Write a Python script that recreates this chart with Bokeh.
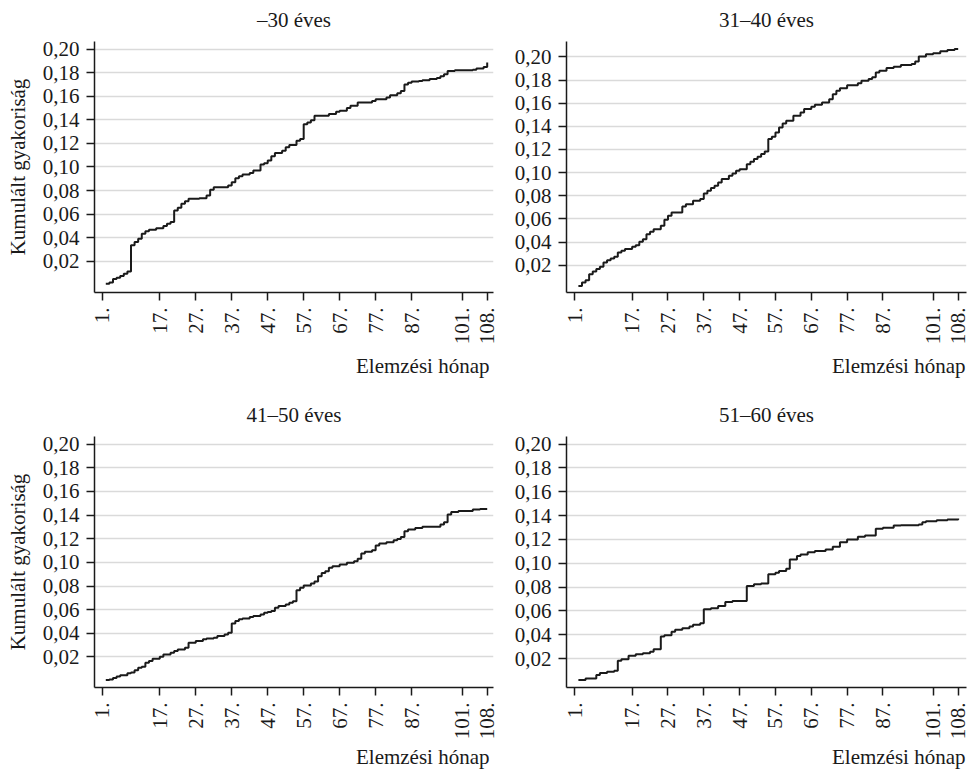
import math
from bokeh.plotting import figure
from bokeh.models import Range1d, FixedTicker, Title
from bokeh.layouts import gridplot
from bokeh.embed import file_html
from bokeh.resources import INLINE

# ---------------- data ----------------
titles = ["\u201330 éves", "31\u201340 éves", "41\u201350 éves", "51\u201360 éves"]
y_axis_title = "Kumulált gyakoriság"
x_axis_title = "Elemzési hónap"

x_ticks = [1, 17, 27, 37, 47, 57, 67, 77, 87, 101, 108]
x_tick_labels = ["1.", "17.", "27.", "37.", "47.", "57.", "67.", "77.", "87.", "101.", "108."]
y_ticks = [0.02, 0.04, 0.06, 0.08, 0.10, 0.12, 0.14, 0.16, 0.18, 0.20]
y_tick_labels = ["0,02", "0,04", "0,06", "0,08", "0,10", "0,12", "0,14", "0,16", "0,18", "0,20"]

months_30 = [2, 3, 4, 5, 6, 7, 8, 9, 10, 11, 12, 13, 14, 16, 18, 19, 20, 21, 22, 23,
             24, 25, 28, 30, 31, 32, 36, 37, 38, 39, 40, 42, 43, 45, 46, 47, 48, 49, 51, 52,
             53, 55, 56, 57, 58, 59, 60, 64, 66, 67, 69, 70, 72, 76, 77, 80, 81, 83, 84, 85,
             86, 87, 89, 90, 92, 94, 95, 96, 97, 99, 104, 105, 107, 108]
cum_30 = [0.001, 0.002, 0.005, 0.006, 0.0076, 0.0093, 0.0113, 0.0335, 0.0363, 0.039,
          0.0434, 0.0454, 0.0468, 0.048, 0.050, 0.0518, 0.0532, 0.063, 0.0654, 0.0687,
          0.071, 0.073, 0.0735, 0.0758, 0.0806, 0.0828, 0.0842, 0.087, 0.0904, 0.0921,
          0.0935, 0.0949, 0.0969, 0.102, 0.1031, 0.1054, 0.109, 0.1118, 0.1138, 0.1166,
          0.1186, 0.1223, 0.1237, 0.1363, 0.1377, 0.1397, 0.1434, 0.1448, 0.1468, 0.1476,
          0.1499, 0.1518, 0.1546, 0.156, 0.1575, 0.1589, 0.1608, 0.1625, 0.1645, 0.170,
          0.1715, 0.1724, 0.173, 0.1735, 0.1746, 0.1755, 0.1769, 0.1786, 0.1814, 0.182,
          0.1825, 0.1834, 0.1848, 0.1885]

months_40 = [2, 3, 4, 5, 6, 7, 8, 9, 10, 11, 12, 13, 14, 15, 17, 18, 19, 20, 21, 22,
             23, 25, 26, 27, 28, 31, 32, 34, 36, 37, 38, 39, 40, 41, 42, 44, 45, 46, 47, 49,
             50, 51, 52, 53, 54, 55, 56, 57, 58, 59, 60, 62, 64, 65, 67, 68, 70, 72, 73, 74,
             75, 77, 80, 81, 83, 84, 85, 86, 88, 90, 92, 95, 96, 97, 99, 101, 103, 105, 107, 108]
cum_40 = [0.002, 0.005, 0.007, 0.0122, 0.0145, 0.0166, 0.0186, 0.0224, 0.0243, 0.0258,
          0.0272, 0.031, 0.0324, 0.0339, 0.0359, 0.0373, 0.0402, 0.0425, 0.0468, 0.0488,
          0.0511, 0.054, 0.0592, 0.0627, 0.0655, 0.0707, 0.0727, 0.0756, 0.0771, 0.082,
          0.0843, 0.0866, 0.0886, 0.0915, 0.0944, 0.0973, 0.0993, 0.1016, 0.103, 0.1073,
          0.1093, 0.1117, 0.1137, 0.116, 0.1183, 0.129, 0.131, 0.1347, 0.139, 0.1425,
          0.1448, 0.1491, 0.152, 0.1549, 0.1569, 0.1586, 0.1606, 0.1635, 0.1678, 0.1707,
          0.173, 0.1756, 0.1773, 0.1794, 0.1808, 0.1823, 0.1866, 0.188, 0.1903, 0.1915,
          0.193, 0.1938, 0.1961, 0.2004, 0.2022, 0.2031, 0.2048, 0.2059, 0.2068, 0.2068]

months_50 = [2, 3, 4, 5, 6, 8, 9, 10, 11, 12, 13, 14, 15, 17, 18, 20, 21, 22, 24, 25,
             27, 29, 30, 32, 33, 35, 36, 37, 38, 39, 40, 42, 43, 45, 46, 47, 48, 49, 50, 52,
             53, 54, 55, 56, 57, 59, 60, 61, 62, 63, 64, 65, 67, 69, 71, 72, 73, 74, 76, 77,
             78, 80, 82, 83, 84, 85, 86, 88, 90, 95, 96, 97, 98, 100, 104, 106, 108]
cum_50 = [0.0005, 0.001, 0.0023, 0.0034, 0.0045, 0.0062, 0.0068, 0.0087, 0.011, 0.0118,
          0.0152, 0.0166, 0.0186, 0.0203, 0.0222, 0.0236, 0.025, 0.0264, 0.0278, 0.0321,
          0.0335, 0.0349, 0.0357, 0.0363, 0.0377, 0.0391, 0.0405, 0.0484, 0.0504, 0.0518,
          0.0526, 0.0537, 0.0546, 0.056, 0.0574, 0.058, 0.0588, 0.0616, 0.063, 0.0644,
          0.0658, 0.0672, 0.0765, 0.0785, 0.0805, 0.0821, 0.0838, 0.0883, 0.0911, 0.0925,
          0.0954, 0.0968, 0.0982, 0.0996, 0.101, 0.103, 0.1075, 0.1089, 0.1103, 0.1142,
          0.1159, 0.117, 0.1187, 0.1198, 0.1215, 0.1263, 0.1277, 0.1291, 0.13, 0.1319,
          0.1339, 0.1404, 0.1426, 0.1435, 0.1446, 0.1451, 0.1451]

months_60 = [2, 4, 7, 8, 10, 12, 13, 14, 16, 18, 20, 22, 23, 25, 26, 28, 29, 31, 33, 34,
             36, 37, 39, 41, 43, 45, 49, 51, 53, 55, 57, 58, 60, 61, 63, 64, 66, 68, 71, 73,
             75, 77, 80, 82, 85, 87, 90, 92, 97, 98, 99, 102, 105, 108]
cum_60 = [0.002, 0.0033, 0.0061, 0.0078, 0.0089, 0.0098, 0.0181, 0.0195, 0.0223, 0.0237,
          0.0245, 0.0257, 0.0279, 0.0385, 0.0396, 0.0424, 0.0441, 0.0455, 0.0469, 0.0483,
          0.0497, 0.0614, 0.0622, 0.0642, 0.0675, 0.0683, 0.0809, 0.0823, 0.0831, 0.0907,
          0.092, 0.0934, 0.0954, 0.1032, 0.106, 0.1074, 0.1093, 0.1102, 0.1116, 0.1138,
          0.1177, 0.1199, 0.1222, 0.1233, 0.1289, 0.1297, 0.1317, 0.1319, 0.1325, 0.1345,
          0.1353, 0.1361, 0.1367, 0.1375]

# ---------------- style ----------------
FONT = "Liberation Serif"
FS = "21px"
INK = "#1a1a1a"


def make_panel(title, months, values, width, height, bl, br, bt, bb,
               xr, yr, with_ylabel, xlabel_standoff, xlabel_offset):
    p = figure(width=width, height=height,
               x_range=Range1d(*xr), y_range=Range1d(*yr),
               output_backend="svg", toolbar_location=None,
               min_border_left=bl, min_border_right=br,
               min_border_top=bt, min_border_bottom=bb)
    p.outline_line_color = None
    p.background_fill_color = "white"
    p.border_fill_color = "white"

    p.step(months, values, mode="after", line_color=INK, line_width=2)

    p.xaxis.ticker = FixedTicker(ticks=x_ticks)
    p.xaxis.major_label_overrides = dict(zip(x_ticks, x_tick_labels))
    p.yaxis.ticker = FixedTicker(ticks=y_ticks)
    p.yaxis.major_label_overrides = dict(zip(y_ticks, y_tick_labels))

    for ax in (p.xaxis, p.yaxis):
        ax.axis_line_color = INK
        ax.axis_line_width = 1.5
        ax.major_tick_line_color = INK
        ax.major_tick_line_width = 1.5
        ax.major_tick_out = 8
        ax.major_tick_in = 0
        ax.minor_tick_line_color = None
        ax.major_label_text_font = FONT
        ax.major_label_text_font_size = FS
        ax.major_label_text_color = INK
        ax.major_label_standoff = 7
    p.xaxis.major_label_orientation = math.pi / 2

    if with_ylabel:
        p.yaxis.axis_label = y_axis_title
        p.yaxis.axis_label_standoff = 10
        p.yaxis.axis_label_text_font = FONT
        p.yaxis.axis_label_text_font_size = FS
        p.yaxis.axis_label_text_font_style = "normal"
        p.yaxis.axis_label_text_color = INK

    p.xgrid.visible = False
    p.ygrid.grid_line_color = "#dadada"
    p.ygrid.grid_line_width = 1.3

    p.add_layout(Title(text=title, align="center", vertical_align="top", standoff=15,
                       text_font=FONT, text_font_size=FS, text_font_style="normal",
                       text_color=INK), "above")
    p.add_layout(Title(text=x_axis_title, align="right", offset=xlabel_offset,
                       vertical_align="top", standoff=xlabel_standoff,
                       text_font=FONT, text_font_size=FS, text_font_style="normal",
                       text_color=INK), "below")
    return p


xr_left = (-1.14, 109.75)
xr_right = (-1.32, 110.32)

p1 = make_panel(titles[0], months_30, cum_30, 507, 395, 94, 14, 41, 103,
                xr_left, (-0.0065, 0.2064), True, 13, 4)
p2 = make_panel(titles[1], months_40, cum_40, 464, 395, 59, 5, 41, 103,
                xr_right, (-0.0036, 0.2133), False, 13, 1)
p3 = make_panel(titles[2], months_50, cum_50, 507, 378, 94, 14, 41, 86,
                xr_left, (-0.0058, 0.2064), True, 5, 4)
p4 = make_panel(titles[3], months_60, cum_60, 464, 378, 59, 5, 41, 86,
                xr_right, (-0.0043, 0.2064), False, 5, 1)

layout = gridplot([[p1, p2], [p3, p4]], toolbar_location=None)

open("out.html", "w").write(file_html(layout, INLINE))
